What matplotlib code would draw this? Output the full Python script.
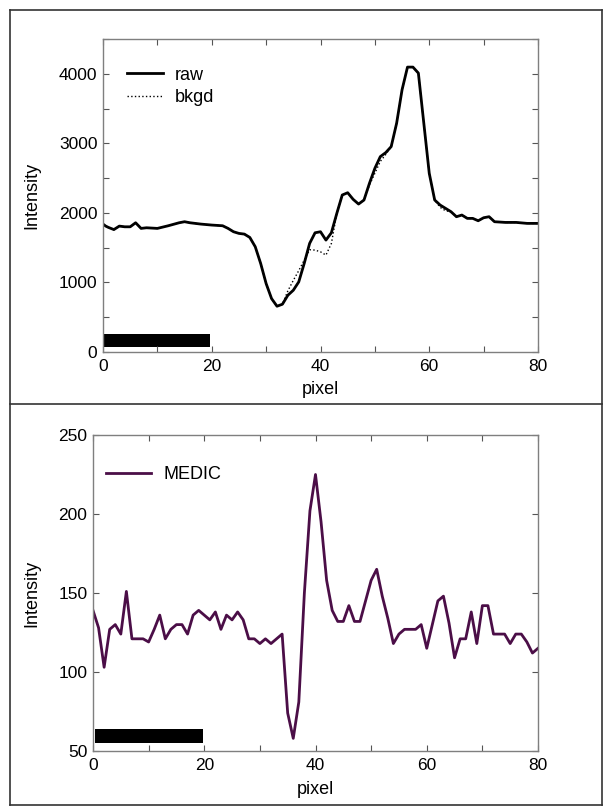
import matplotlib
matplotlib.use("Agg")
import matplotlib.pyplot as plt
from matplotlib.lines import Line2D

plt.rcParams['font.family'] = ['Liberation Sans', 'DejaVu Sans']
plt.rcParams['font.size'] = 12

# top panel: raw profile and background estimate
pix = [0, 0.5, 1, 2, 3, 4, 5, 6, 7, 8, 10, 12, 14, 15, 16, 18, 20, 22, 23, 24,
       25, 26, 27, 28, 29, 30, 31, 32, 33, 34, 35, 36, 37, 38, 39, 40, 41, 42,
       43, 44, 45, 46, 47, 48, 49, 50, 51, 52, 53, 54, 55, 56, 57, 58, 59, 60,
       61, 62, 63, 64, 65, 66, 67, 68, 69, 70, 71, 72, 74, 76, 78, 80]
raw = [1839, 1810, 1791, 1760, 1810, 1800, 1800, 1858, 1777, 1786, 1777, 1815,
       1858, 1873, 1858, 1839, 1825, 1815, 1777, 1729, 1705, 1695, 1647, 1513,
       1272, 984, 768, 658, 687, 816, 888, 1008, 1272, 1561, 1714, 1729, 1609,
       1714, 1993, 2257, 2290, 2195, 2127, 2185, 2425, 2641, 2809, 2867, 2953,
       3289, 3770, 4096, 4096, 4010, 3289, 2569, 2185, 2113, 2065, 2017, 1945,
       1969, 1921, 1921, 1887, 1930, 1945, 1873, 1863, 1863, 1849, 1849]
bkgd = [1839, 1810, 1791, 1760, 1810, 1800, 1800, 1858, 1777, 1786, 1777, 1815,
        1858, 1873, 1858, 1839, 1825, 1815, 1777, 1729, 1705, 1695, 1647, 1513,
        1272, 984, 768, 658, 687, 880, 1030, 1170, 1320, 1470, 1465, 1440, 1393,
        1560, 1993, 2257, 2290, 2195, 2127, 2185, 2400, 2570, 2740, 2840, 2953,
        3289, 3770, 4096, 4096, 4010, 3289, 2569, 2185, 2080, 2030, 2017, 1945,
        1969, 1921, 1921, 1887, 1930, 1945, 1873, 1863, 1863, 1849, 1849]

# bottom panel: MEDIC output, one value per pixel 0..80
medic_x = list(range(81))
medic = [139, 128, 103, 127, 130, 124, 151, 121, 121, 121, 119, 127, 136, 121,
         127, 130, 130, 124, 136, 139, 136, 133, 138, 127, 136, 133, 138, 133,
         121, 121, 118, 121, 118, 121, 124, 74, 58, 81, 150, 202, 225, 195, 158,
         139, 132, 132, 142, 132, 132, 145, 158, 165, 148, 134, 118, 124, 127,
         127, 127, 130, 115, 130, 145, 148, 131, 109, 121, 121, 138, 118, 142,
         142, 124, 124, 124, 118, 124, 124, 119, 112, 115]

# black scale bars
bar_top_x = [0, 19.6]
bar_top_y = [70, 260]
bar_bot_x = [0.3, 19.8]
bar_bot_y = [55, 64]

W, H = 609, 811
fig = plt.figure(figsize=(W / 100, H / 100), dpi=100)

spine_col = '#7f7f7f'


def style(ax):
    for s in ax.spines.values():
        s.set_color(spine_col)
        s.set_linewidth(1.0)
    ax.tick_params(direction='in', top=True, right=True, length=4,
                   color='#555555', labelsize=12.5)
    ax.tick_params(axis='x', pad=5)
    ax.tick_params(axis='y', pad=4)


ax1 = fig.add_axes([103 / W, 1 - 352 / H, 435 / W, 313 / H])
ax1.plot(pix, raw, color='black', lw=2.0, label='raw')
ax1.plot(pix, bkgd, color='black', lw=1.0, ls=':', label='bkgd')
ax1.fill_between(bar_top_x, bar_top_y[0], bar_top_y[1], color='black', lw=0)
ax1.set_xlim(0, 80)
ax1.set_ylim(0, 4500)
ax1.set_xticks(range(0, 81, 10))
ax1.set_xticklabels(['0', '', '20', '', '40', '', '60', '', '80'])
ax1.set_yticks(range(0, 4501, 500))
ax1.set_yticklabels(['0', '', '1000', '', '2000', '', '3000', '', '4000', ''])
style(ax1)
ax1.set_xlabel('pixel', fontsize=13)
ax1.set_ylabel('Intensity', fontsize=13)
ax1.xaxis.set_label_coords(0.5, -0.094)
ax1.yaxis.set_label_coords(-0.143, 0.5)
ax1.legend(loc='upper left', bbox_to_anchor=(0.055, 0.912), frameon=False,
           borderpad=0, borderaxespad=0, handlelength=2.0, handletextpad=0.65,
           labelspacing=0.3, fontsize=13)

ax2 = fig.add_axes([93 / W, 1 - 751 / H, 445 / W, 316 / H])
ax2.plot(medic_x, medic, color='#4b0e47', lw=2.0, label='MEDIC')
ax2.fill_between(bar_bot_x, bar_bot_y[0], bar_bot_y[1], color='black', lw=0)
ax2.set_xlim(0, 80)
ax2.set_ylim(50, 250)
ax2.set_xticks(range(0, 81, 10))
ax2.set_xticklabels(['0', '', '20', '', '40', '', '60', '', '80'])
ax2.set_yticks(range(50, 251, 50))
style(ax2)
ax2.set_xlabel('pixel', fontsize=13)
ax2.set_ylabel('Intensity', fontsize=13)
ax2.xaxis.set_label_coords(0.5, -0.095)
ax2.yaxis.set_label_coords(-0.118, 0.5)
ax2.legend(loc='upper left', bbox_to_anchor=(0.03, 0.902), frameon=False,
           borderpad=0, borderaxespad=0, handlelength=2.45, handletextpad=0.7,
           fontsize=13)

# outer frame and divider
fx0, fx1 = 10 / W, 602 / W
fy0, fy1 = 1 - 805 / H, 1 - 10 / H
fmid = 1 - 404 / H
fc = '#333333'
for xs, ys in [([fx0, fx1], [fy0, fy0]), ([fx0, fx1], [fy1, fy1]),
               ([fx0, fx0], [fy0, fy1]), ([fx1, fx1], [fy0, fy1]),
               ([fx0, fx1], [fmid, fmid])]:
    fig.add_artist(Line2D(xs, ys, color=fc, lw=1.2, transform=fig.transFigure))

fig.savefig('out.png', dpi=100)
